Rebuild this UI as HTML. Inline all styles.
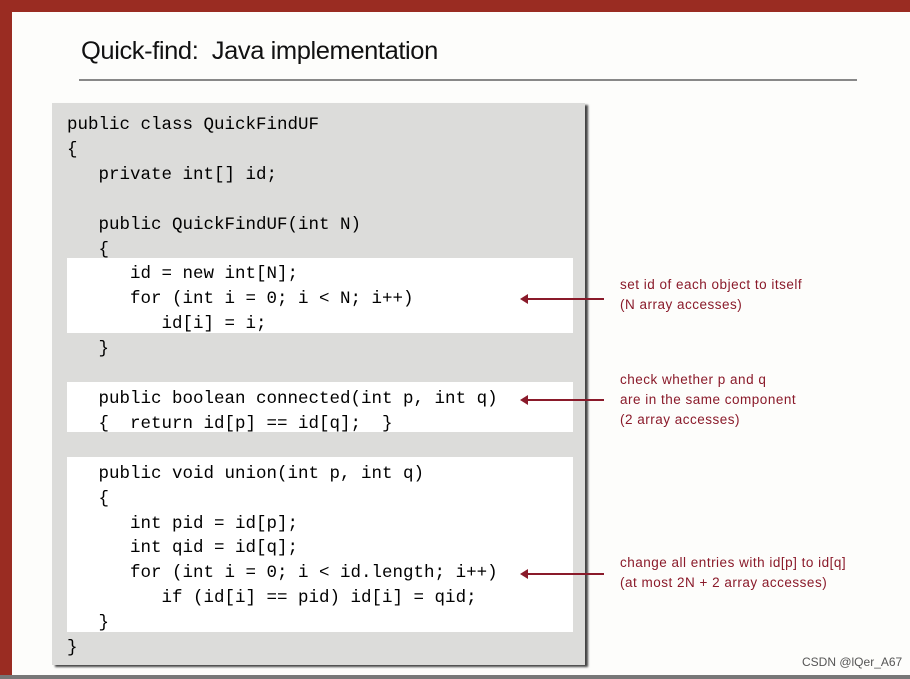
<!DOCTYPE html>
<html><head><style>
body{margin:0;width:910px;height:679px;overflow:hidden;background:#9a2c22;position:relative;font-family:"Liberation Sans",sans-serif}
.slide{position:absolute;left:12px;top:12px;width:898px;height:663px;background:#fdfdfb}
.bot{position:absolute;left:0;top:675px;width:910px;height:4px;background:#777}
.title{position:absolute;left:81px;top:37px;font-size:25px;color:#111;letter-spacing:-0.4px;transform:scaleX(1.02);transform-origin:left}
.rule{position:absolute;left:79px;top:79px;width:778px;height:2px;background:#888}
.box{position:absolute;left:52px;top:103px;width:533px;height:562px;background:#dcdcda;box-shadow:3px 2px 2px #444}
.wp{position:absolute;left:67px;width:506px;background:#fff}
.code{position:absolute;left:67px;top:113px;font-family:"Liberation Mono",monospace;font-size:17.5px;line-height:24.9px;color:#000;white-space:pre}
.ann{position:absolute;left:620px;font-size:13.5px;line-height:20px;color:#8a1a2a;letter-spacing:0.5px}
.ar{position:absolute;left:522px;width:82px;height:2px;background:#8a1a2a}
.ar:before{content:"";position:absolute;left:-2px;top:-4px;border-right:8px solid #8a1a2a;border-top:5px solid transparent;border-bottom:5px solid transparent}
.wm{position:absolute;left:802px;top:655px;font-size:12px;color:#555}
</style></head><body>
<div class="slide"></div><div class="bot"></div>
<div class="title">Quick-find:&nbsp; Java implementation</div>
<div class="rule"></div>
<div class="box"></div>
<div class="wp" style="top:258px;height:75px"></div>
<div class="wp" style="top:382px;height:50px"></div>
<div class="wp" style="top:457px;height:175px"></div>
<div class="code">public class QuickFindUF
{
   private int[] id;

   public QuickFindUF(int N)
   {
      id = new int[N];
      for (int i = 0; i &lt; N; i++)
         id[i] = i;
   }

   public boolean connected(int p, int q)
   {  return id[p] == id[q];  }

   public void union(int p, int q)
   {
      int pid = id[p];
      int qid = id[q];
      for (int i = 0; i &lt; id.length; i++)
         if (id[i] == pid) id[i] = qid;
   }
}</div>
<div class="ar" style="top:298px"></div>
<div class="ar" style="top:399px"></div>
<div class="ar" style="top:573px"></div>
<div class="ann" style="top:275px">set id of each object to itself<br>(N array accesses)</div>
<div class="ann" style="top:370px">check whether p and q<br>are in the same component<br>(2 array accesses)</div>
<div class="ann" style="top:553px">change all entries with id[p] to id[q]<br>(at most 2N + 2 array accesses)</div>
<div class="wm">CSDN @lQer_A67</div>
</body></html>
